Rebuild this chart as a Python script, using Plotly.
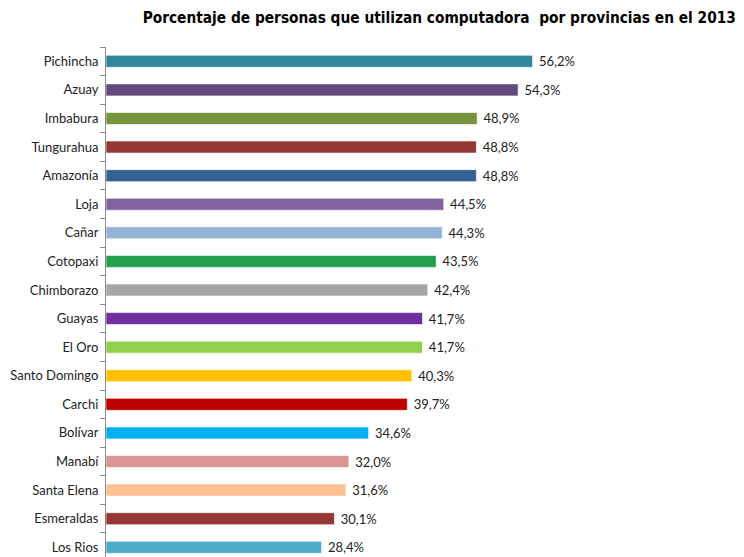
import plotly.graph_objects as go

provincias = ["Pichincha", "Azuay", "Imbabura", "Tungurahua", "Amazonía", "Loja", "Cañar",
              "Cotopaxi", "Chimborazo", "Guayas", "El Oro", "Santo Domingo", "Carchi",
              "Bolívar", "Manabí", "Santa Elena", "Esmeraldas", "Los Rios"]
valores = [56.2, 54.3, 48.9, 48.8, 48.8, 44.5, 44.3, 43.5, 42.4, 41.7, 41.7, 40.3, 39.7,
           34.6, 32.0, 31.6, 30.1, 28.4]
etiquetas = [f" {v:.1f}%".replace(".", ",") for v in valores]
colores = ["#31859C", "#604A7B", "#77933C", "#953735", "#366092", "#8064A2", "#95B3D7",
           "#22A04E", "#A6A6A6", "#7030A0", "#92D050", "#FFC000", "#C00000",
           "#00B0F0", "#D99694", "#FAC090", "#953735", "#4BACC6"]
titulo = "Porcentaje de personas que utilizan computadora  por provincias en el 2013"

fuente = "Lato, Carlito, Roboto, sans-serif"

fig = go.Figure(go.Bar(
    x=valores, y=provincias, orientation="h",
    marker=dict(color=colores, line=dict(color="rgba(255,255,255,0.6)", width=1)),
    text=etiquetas, textposition="outside", cliponaxis=False, constraintext="none",
    textfont=dict(family=fuente, size=13, color="#222"),
    width=0.42,
))

fig.update_layout(
    width=736, height=549,
    margin=dict(l=98, r=0, t=39, b=0, autoexpand=False),
    paper_bgcolor="white", plot_bgcolor="white",
    showlegend=False,
    title=dict(text=titulo, x=0.989, xanchor="right", y=0.982, yanchor="middle",
               automargin=False,
               font=dict(family="DejaVu Sans Condensed, Liberation Sans, sans-serif",
                         size=15.3, color="black", weight="bold")),
    xaxis=dict(range=[0, 84.06], visible=False, automargin=False),
    yaxis=dict(type="category", range=[17.34, -0.5], showline=True, linecolor="#8c8c8c",
               linewidth=1, ticks="outside", ticklen=5, tickcolor="#8c8c8c",
               tickson="boundaries", showgrid=False, automargin=False, ticklabelstandoff=4,
               tickfont=dict(family=fuente, size=13, color="#222")),
)

fig.write_html("out.html")
